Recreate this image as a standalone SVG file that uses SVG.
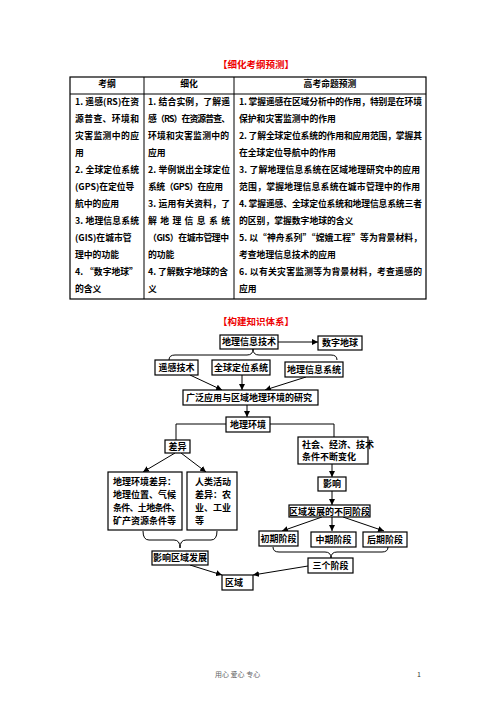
<svg xmlns="http://www.w3.org/2000/svg" width="496" height="702" viewBox="0 0 496 702">
<defs>
<marker id="ah" viewBox="0 0 10 10" refX="10" refY="5" markerWidth="6" markerHeight="6" orient="auto" markerUnits="userSpaceOnUse">
<path d="M0,0 L10,5 L0,10 z" fill="#000"/>
</marker>
</defs>
<style>
text{font-family:"Noto Sans CJK SC","Noto Sans",sans-serif;font-weight:700;fill:#000}
.t{font-size:8.8px}
.h{font-size:8.8px;text-anchor:middle}
.red{font-size:9.5px;fill:#e00;text-anchor:middle}
.n{font-size:9px}
.c{text-anchor:middle}
.box{fill:#fff;stroke:#000;stroke-width:1.2}
.ln{fill:none;stroke:#000;stroke-width:1}
.ar{fill:none;stroke:#000;stroke-width:1;marker-end:url(#ah)}
.foot{font-size:7px;font-weight:400;fill:#666}
</style>
<rect width="496" height="702" fill="#fff"/>

<text class="red" x="256" y="68">【细化考纲预测】</text>

<g id="table">
<rect x="70" y="77" width="356" height="222" fill="none" stroke="#000" stroke-width="1.2"/>
<line x1="70" y1="94" x2="426" y2="94" stroke="#000" stroke-width="1"/>
<line x1="144" y1="77" x2="144" y2="299" stroke="#000" stroke-width="1"/>
<line x1="234" y1="77" x2="234" y2="299" stroke="#000" stroke-width="1"/>
<text class="h" x="107" y="86.5">考纲</text>
<text class="h" x="189" y="86.5">细化</text>
<text class="h" x="330" y="86.5">高考命题预测</text>

<text class="t" x="75" y="105" textLength="64" lengthAdjust="spacing">1. 遥感(RS)在资</text>
<text class="t" x="75" y="122" textLength="64" lengthAdjust="spacing">源普查、环境和</text>
<text class="t" x="75" y="139" textLength="64" lengthAdjust="spacing">灾害监测中的应</text>
<text class="t" x="75" y="156">用</text>
<text class="t" x="75" y="173" textLength="64" lengthAdjust="spacing">2. 全球定位系统</text>
<text class="t" x="75" y="190">(GPS)在定位导</text>
<text class="t" x="75" y="207">航中的应用</text>
<text class="t" x="75" y="224" textLength="64" lengthAdjust="spacing">3. 地理信息系统</text>
<text class="t" x="75" y="241">(GIS)在城市管</text>
<text class="t" x="75" y="258">理中的功能</text>
<text class="t" x="75" y="275">4. “数字地球”</text>
<text class="t" x="75" y="292">的含义</text>

<text class="t" x="148" y="105" textLength="82" lengthAdjust="spacing">1. 结合实例，了解遥</text>
<text class="t" x="148" y="122" textLength="82" lengthAdjust="spacing">感（RS）在资源普查、</text>
<text class="t" x="148" y="139" textLength="81" lengthAdjust="spacing">环境和灾害监测中的</text>
<text class="t" x="148" y="156">应用</text>
<text class="t" x="148" y="173" textLength="82" lengthAdjust="spacing">2. 举例说出全球定位</text>
<text class="t" x="148" y="190" textLength="75" lengthAdjust="spacing">系统（GPS）在应用</text>
<text class="t" x="148" y="207" textLength="82" lengthAdjust="spacing">3. 运用有关资料，了</text>
<text class="t" x="148" y="224" textLength="82" lengthAdjust="spacing">解 地 理 信 息 系 统</text>
<text class="t" x="148" y="241" textLength="81" lengthAdjust="spacing">（GIS）在城市管理中</text>
<text class="t" x="148" y="258">的功能</text>
<text class="t" x="148" y="275" textLength="80" lengthAdjust="spacing">4. 了解数字地球的含</text>
<text class="t" x="148" y="292">义</text>

<text class="t" x="239" y="105" textLength="183" lengthAdjust="spacing">1. 掌握遥感在区域分析中的作用，特别是在环境</text>
<text class="t" x="239" y="122">保护和灾害监测中的作用</text>
<text class="t" x="239" y="139" textLength="183" lengthAdjust="spacing">2. 了解全球定位系统的作用和应用范围，掌握其</text>
<text class="t" x="239" y="156">在全球定位导航中的作用</text>
<text class="t" x="239" y="173" textLength="181" lengthAdjust="spacing">3. 了解地理信息系统在区域地理研究中的应用</text>
<text class="t" x="239" y="190" textLength="181" lengthAdjust="spacing">范围，掌握地理信息系统在城市管理中的作用</text>
<text class="t" x="239" y="207" textLength="183" lengthAdjust="spacing">4. 掌握遥感、全球定位系统和地理信息系统三者</text>
<text class="t" x="239" y="224">的区别，掌握数字地球的含义</text>
<text class="t" x="239" y="241" textLength="183" lengthAdjust="spacing">5. 以“神舟系列”“嫦娥工程”等为背景材料，</text>
<text class="t" x="239" y="258">考查地理信息技术的应用</text>
<text class="t" x="239" y="275" textLength="183" lengthAdjust="spacing">6. 以有关灾害监测等为背景材料，考查遥感的</text>
<text class="t" x="239" y="292">应用</text>
</g>

<text class="red" x="256" y="325">【构建知识体系】</text>

<g id="connectors">
<line class="ar" x1="278" y1="342" x2="318" y2="342"/>
<path class="ln" d="M169,360 Q169,355 175,355 L247,355 Q253,355 253,349 Q253,355 259,355 L331,355 Q337,355 337,360"/>
<line class="ar" x1="190" y1="375" x2="222" y2="390"/>
<line class="ar" x1="242" y1="375" x2="242" y2="390"/>
<line class="ar" x1="306" y1="377" x2="265" y2="390"/>
<line class="ar" x1="247" y1="405" x2="247" y2="417"/>
<polyline class="ln" points="226,424 176,424 176,440"/>
<polyline class="ln" points="270,424 334,424 334,437"/>
<line class="ar" x1="175" y1="453" x2="143" y2="472"/>
<line class="ar" x1="181" y1="453" x2="206" y2="472"/>
<line class="ar" x1="332" y1="464" x2="332" y2="477"/>
<line class="ar" x1="332" y1="491" x2="332" y2="505"/>
<line class="ar" x1="322" y1="517" x2="282" y2="531"/>
<line class="ar" x1="332" y1="517" x2="332" y2="531"/>
<line class="ar" x1="343" y1="517" x2="384" y2="531"/>
<path class="ln" d="M143,531 Q143,540 149,540 L174,540 Q180,540 180,548 Q180,540 186,540 L211,540 Q217,540 217,531"/>
<path class="ln" d="M273,547 Q273,552 279,552 L325,552 Q331,552 331,558 Q331,552 337,552 L382,552 Q388,552 388,547"/>
<line class="ar" x1="190" y1="565" x2="222" y2="575"/>
<line class="ar" x1="308" y1="566" x2="253" y2="575"/>
</g>

<g id="n_gis_tech"><rect class="box" x="220" y="335" width="58" height="14"/><text class="n c" x="249" y="345.3">地理信息技术</text></g>
<g id="n_digital_earth"><rect class="box" x="318" y="336" width="44" height="14"/><text class="n c" x="340" y="346.3">数字地球</text></g>
<g id="n_rs"><rect class="box" x="155" y="360" width="43" height="15"/><text class="n c" x="176.5" y="370.8">遥感技术</text></g>
<g id="n_gps"><rect class="box" x="212" y="360" width="58" height="15"/><text class="n c" x="241" y="370.8">全球定位系统</text></g>
<g id="n_gis"><rect class="box" x="285" y="362" width="58" height="15"/><text class="n c" x="314" y="372.8">地理信息系统</text></g>
<g id="n_apply"><rect class="box" x="183" y="390" width="135" height="15"/><text class="n" x="186" y="400.8">广泛应用与区域地理环境的研究</text></g>
<g id="n_env"><rect class="box" x="226" y="417" width="44" height="15"/><text class="n c" x="248" y="427.8">地理环境</text></g>
<g id="n_diff"><rect class="box" x="165" y="440" width="25" height="13"/><text class="n c" x="177.5" y="449.8">差异</text></g>
<g id="n_society"><rect class="box" x="298" y="437" width="70" height="27"/><text class="n" x="302" y="448.2">社会、经济、技术</text><text class="n" x="302" y="460.2">条件不断变化</text></g>
<g id="n_influence"><rect class="box" x="318" y="477" width="28" height="14"/><text class="n c" x="332" y="487.3">影响</text></g>
<g id="n_stages"><rect class="box" x="289" y="505" width="81" height="12"/><text class="n c" x="329.5" y="514.5">区域发展的不同阶段</text></g>
<g id="n_envdiff"><rect class="box" x="108" y="472" width="74" height="58"/>
<text class="n" x="113" y="485">地理环境差异：</text>
<text class="n" x="113" y="498">地理位置、气候</text>
<text class="n" x="113" y="511" textLength="67" lengthAdjust="spacing">条件、土地条件、</text>
<text class="n" x="113" y="524">矿产资源条件等</text></g>
<g id="n_humandiff"><rect class="box" x="187" y="472" width="50" height="58"/>
<text class="n" x="195" y="485">人类活动</text>
<text class="n" x="195" y="498" textLength="36" lengthAdjust="spacing">差异：农</text>
<text class="n" x="195" y="511">业、工业</text>
<text class="n" x="195" y="524">等</text></g>
<g id="n_early"><rect class="box" x="259" y="531" width="39" height="15"/><text class="n c" x="278.5" y="541.8">初期阶段</text></g>
<g id="n_mid"><rect class="box" x="311" y="532" width="45" height="15"/><text class="n c" x="333.5" y="542.8">中期阶段</text></g>
<g id="n_late"><rect class="box" x="363" y="532" width="44" height="15"/><text class="n c" x="385" y="542.8">后期阶段</text></g>
<g id="n_affect"><rect class="box" x="152" y="551" width="56" height="14"/><text class="n c" x="180" y="561.3">影响区域发展</text></g>
<g id="n_three"><rect class="box" x="308" y="558" width="45" height="15"/><text class="n c" x="330.5" y="568.8">三个阶段</text></g>
<g id="n_region"><rect class="box" x="222" y="575" width="31" height="15"/><text class="n" x="225" y="585.8">区域</text></g>

<text class="foot" x="215" y="677">用心 爱心 专心</text>
<text class="foot" x="417" y="677" style="fill:#333">1</text>
</svg>
